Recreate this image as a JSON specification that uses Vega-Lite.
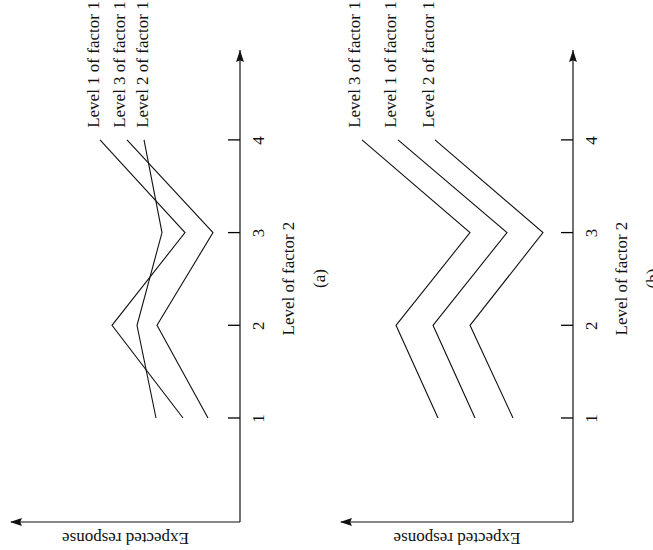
{
  "$schema": "https://vega.github.io/schema/vega-lite/v6.json",
  "background": "white",
  "padding": {"left": 10, "top": 0, "right": 0, "bottom": 0},
  "bounds": "flush",
  "spacing": 100,
  "config": {"view": {"stroke": null}},
  "datasets": {
    "linesA": [
      {"series": "L1", "level": 1, "response": 57},
      {"series": "L1", "level": 2, "response": 128},
      {"series": "L1", "level": 3, "response": 55},
      {"series": "L1", "level": 4, "response": 140},
      {"series": "L2", "level": 1, "response": 84},
      {"series": "L2", "level": 2, "response": 103},
      {"series": "L2", "level": 3, "response": 78},
      {"series": "L2", "level": 4, "response": 96},
      {"series": "L3", "level": 1, "response": 32},
      {"series": "L3", "level": 2, "response": 83},
      {"series": "L3", "level": 3, "response": 27},
      {"series": "L3", "level": 4, "response": 113}
    ],
    "labelsA": [
      {"label": "Level 1 of factor 1", "level": 4.13, "response": 146},
      {"label": "Level 3 of factor 1", "level": 4.13, "response": 120},
      {"label": "Level 2 of factor 1", "level": 4.13, "response": 97}
    ],
    "linesB": [
      {"series": "L3", "level": 1, "response": 135},
      {"series": "L3", "level": 2, "response": 177},
      {"series": "L3", "level": 3, "response": 103},
      {"series": "L3", "level": 4, "response": 211},
      {"series": "L1", "level": 1, "response": 98},
      {"series": "L1", "level": 2, "response": 140},
      {"series": "L1", "level": 3, "response": 66},
      {"series": "L1", "level": 4, "response": 175},
      {"series": "L2", "level": 1, "response": 60},
      {"series": "L2", "level": 2, "response": 103},
      {"series": "L2", "level": 3, "response": 30},
      {"series": "L2", "level": 4, "response": 138}
    ],
    "labelsB": [
      {"label": "Level 3 of factor 1", "level": 4.13, "response": 218},
      {"label": "Level 1 of factor 1", "level": 4.13, "response": 182},
      {"label": "Level 2 of factor 1", "level": 4.13, "response": 144}
    ]
  },
  "hconcat": [
    {
      "width": 230,
      "height": 522,
      "layer": [
        {
          "data": {"name": "linesA"},
          "mark": {"type": "line", "color": "#111", "strokeWidth": 1.1},
          "encoding": {
            "x": {"field": "response", "type": "quantitative",
                  "scale": {"domain": [0, 230], "reverse": true, "nice": false, "zero": false},
                  "axis": {"title": "Expected response", "domain": false, "ticks": false, "labels": false, "grid": false,
                           "titleAngle": 180, "titleBaseline": "bottom", "titlePadding": 6,
                           "titleFont": "Liberation Serif", "titleFontSize": 17, "titleFontWeight": "normal", "titleColor": "#111"}},
            "y": {"field": "level", "type": "quantitative",
                  "scale": {"domain": [-0.122, 5.509], "nice": false, "zero": false},
                  "axis": {"orient": "right", "values": [1, 2, 3, 4], "format": "d", "domain": false, "grid": false,
                           "ticks": false, "labelPadding": 10,
                           "labelAngle": 270, "labelAlign": "center", "labelBaseline": "top",
                           "labelFont": "Liberation Serif", "labelFontSize": 17, "labelColor": "#111",
                           "title": ["Level of factor 2", "(a)"], "titleAngle": 270, "titleBaseline": "top", "titleAlign": "center",
                           "titleX": 40, "titleY": 278, "titleLineHeight": 31,
                           "titleFont": "Liberation Serif", "titleFontSize": 17, "titleFontWeight": "normal", "titleColor": "#111"}},
            "detail": {"field": "series"},
            "order": {"field": "level"}
          }
        },
        {
          "data": {"name": "labelsA"},
          "mark": {"type": "text", "angle": 270, "align": "left", "baseline": "middle", "font": "Liberation Serif", "fontSize": 17, "color": "#111"},
          "encoding": {
            "x": {"field": "response", "type": "quantitative"},
            "y": {"field": "level", "type": "quantitative"},
            "text": {"field": "label"}
          }
        },
        {
          "data": {"values": [{"tick": 1}, {"tick": 2}, {"tick": 3}, {"tick": 4}]},
          "mark": {"type": "tick", "orient": "horizontal", "color": "#000", "thickness": 1.3, "size": 12, "opacity": 1},
          "encoding": {"y": {"field": "tick", "type": "quantitative"}, "x": {"datum": 6}}
        },
        {
          "data": {"values": [{}]},
          "mark": {"type": "rule", "color": "#111", "strokeWidth": 1.2},
          "encoding": {"x": {"datum": 0}, "y": {"datum": -0.122}, "y2": {"datum": 4.97}}
        },
        {
          "data": {"values": [{}]},
          "mark": {"type": "rule", "color": "#111", "strokeWidth": 1.2},
          "encoding": {"y": {"datum": -0.122}, "x": {"datum": 0}, "x2": {"datum": 229}}
        },
        {
          "data": {"values": [{}]},
          "mark": {"type": "point", "shape": "M0,-1L-0.33,0L0,-0.15L0.33,0Z", "filled": true, "size": 576, "color": "#111", "opacity": 1},
          "encoding": {"x": {"datum": 0}, "y": {"datum": 4.84}}
        },
        {
          "data": {"values": [{}]},
          "mark": {"type": "point", "shape": "M-1,0L0,-0.33L-0.15,0L0,0.33Z", "filled": true, "size": 576, "color": "#111", "opacity": 1},
          "encoding": {"x": {"datum": 218}, "y": {"datum": -0.122}}
        }
      ]
    },
    {
      "width": 233,
      "height": 522,
      "layer": [
        {
          "data": {"name": "linesB"},
          "mark": {"type": "line", "color": "#111", "strokeWidth": 1.1},
          "encoding": {
            "x": {"field": "response", "type": "quantitative",
                  "scale": {"domain": [0, 233], "reverse": true, "nice": false, "zero": false},
                  "axis": {"title": "Expected response", "domain": false, "ticks": false, "labels": false, "grid": false,
                           "titleAngle": 180, "titleBaseline": "bottom", "titlePadding": 6,
                           "titleFont": "Liberation Serif", "titleFontSize": 17, "titleFontWeight": "normal", "titleColor": "#111"}},
            "y": {"field": "level", "type": "quantitative",
                  "scale": {"domain": [-0.122, 5.509], "nice": false, "zero": false},
                  "axis": {"orient": "right", "values": [1, 2, 3, 4], "format": "d", "domain": false, "grid": false,
                           "ticks": false, "labelPadding": 10,
                           "labelAngle": 270, "labelAlign": "center", "labelBaseline": "top",
                           "labelFont": "Liberation Serif", "labelFontSize": 17, "labelColor": "#111",
                           "title": ["Level of factor 2", "(b)"], "titleAngle": 270, "titleBaseline": "top", "titleAlign": "center",
                           "titleX": 40, "titleY": 278, "titleLineHeight": 31,
                           "titleFont": "Liberation Serif", "titleFontSize": 17, "titleFontWeight": "normal", "titleColor": "#111"}},
            "detail": {"field": "series"},
            "order": {"field": "level"}
          }
        },
        {
          "data": {"name": "labelsB"},
          "mark": {"type": "text", "angle": 270, "align": "left", "baseline": "middle", "font": "Liberation Serif", "fontSize": 17, "color": "#111"},
          "encoding": {
            "x": {"field": "response", "type": "quantitative"},
            "y": {"field": "level", "type": "quantitative"},
            "text": {"field": "label"}
          }
        },
        {
          "data": {"values": [{"tick": 1}, {"tick": 2}, {"tick": 3}, {"tick": 4}]},
          "mark": {"type": "tick", "orient": "horizontal", "color": "#000", "thickness": 1.3, "size": 12, "opacity": 1},
          "encoding": {"y": {"field": "tick", "type": "quantitative"}, "x": {"datum": 6}}
        },
        {
          "data": {"values": [{}]},
          "mark": {"type": "rule", "color": "#111", "strokeWidth": 1.2},
          "encoding": {"x": {"datum": 0}, "y": {"datum": -0.122}, "y2": {"datum": 4.97}}
        },
        {
          "data": {"values": [{}]},
          "mark": {"type": "rule", "color": "#111", "strokeWidth": 1.2},
          "encoding": {"y": {"datum": -0.122}, "x": {"datum": 0}, "x2": {"datum": 232}}
        },
        {
          "data": {"values": [{}]},
          "mark": {"type": "point", "shape": "M0,-1L-0.33,0L0,-0.15L0.33,0Z", "filled": true, "size": 576, "color": "#111", "opacity": 1},
          "encoding": {"x": {"datum": 0}, "y": {"datum": 4.84}}
        },
        {
          "data": {"values": [{}]},
          "mark": {"type": "point", "shape": "M-1,0L0,-0.33L-0.15,0L0,0.33Z", "filled": true, "size": 576, "color": "#111", "opacity": 1},
          "encoding": {"x": {"datum": 221}, "y": {"datum": -0.122}}
        }
      ]
    }
  ]
}
